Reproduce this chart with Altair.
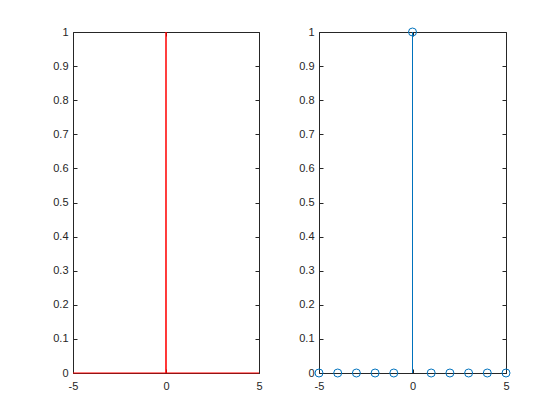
import altair as alt
import pandas as pd

# Left panel: continuous impulse (red line)
t_vals = [-5, -0.01, 0, 0.01, 5]
x_vals = [0, 0, 1, 0, 0]

# Right panel: discrete impulse (stem)
n_vals = [-5, -4, -3, -2, -1, 0, 1, 2, 3, 4, 5]
h_vals = [0, 0, 0, 0, 0, 1, 0, 0, 0, 0, 0]

x_ticks = [-5, 0, 5]
y_ticks = [0, 0.1, 0.2, 0.3, 0.4, 0.5, 0.6, 0.7, 0.8, 0.9, 1]

AX = "#262626"
FONT = "Liberation Sans"
BLUE = "#0072BD"

df1 = pd.DataFrame({"t": t_vals, "v": x_vals})
df2 = pd.DataFrame({"n": n_vals, "h": h_vals})

xs = alt.Scale(domain=[-5, 5], nice=False, zero=False)
ys = alt.Scale(domain=[0, 1], nice=False, zero=False)


def axis(orient, values, labels=True, pad=5):
    kw = dict(orient=orient, values=values, labels=labels, domain=False,
              ticks=True, tickSize=4, offset=-4, tickColor=AX, tickWidth=1,
              grid=False, title=None)
    if labels:
        kw.update(labelColor=AX, labelFont=FONT, labelFontSize=11,
                  labelPadding=pad, labelFlush=False, labelOverlap=False,
                  format="~g",
                  labelExpr="replace(datum.label, '\u2212', '-')")
    return alt.Axis(**kw)


def mirror(df, xf, yf):
    return alt.Chart(df).mark_point(opacity=0).encode(
        x=alt.X(xf, scale=xs, axis=axis("top", x_ticks, labels=False)),
        y=alt.Y(yf, scale=ys, axis=axis("right", y_ticks, labels=False)),
    )


left_main = alt.Chart(df1).mark_line(color="red", strokeWidth=1).encode(
    x=alt.X("t:Q", scale=xs, axis=axis("bottom", x_ticks, pad=7)),
    y=alt.Y("v:Q", scale=ys, axis=axis("left", y_ticks, pad=5)),
)
left = alt.layer(left_main, mirror(df1, "t:Q", "v:Q")).resolve_axis(
    x="independent", y="independent").properties(width=186, height=341)

stems = alt.Chart(df2).mark_rule(color=BLUE, strokeWidth=1).encode(
    x=alt.X("n:Q", scale=xs, axis=axis("bottom", x_ticks, pad=7)),
    y=alt.Y("h:Q", scale=ys, axis=axis("left", y_ticks, pad=5)),
    y2=alt.datum(0),
)
marks = alt.Chart(df2).mark_point(shape="circle", filled=False, size=64,
                                  color=BLUE, strokeWidth=1, opacity=1).encode(
    x=alt.X("n:Q", scale=xs, axis=None),
    y=alt.Y("h:Q", scale=ys, axis=None),
)
right = alt.layer(stems, marks, mirror(df2, "n:Q", "h:Q")).resolve_axis(
    x="independent", y="independent").properties(width=187, height=341)

chart = alt.hconcat(left, right, spacing=35).properties(
    padding={"left": 44, "top": 17, "right": 5, "bottom": 5},
    background="white",
).configure_view(stroke=AX, strokeWidth=1)

chart.save("out.html", embed_options={"renderer": "svg", "actions": False})
